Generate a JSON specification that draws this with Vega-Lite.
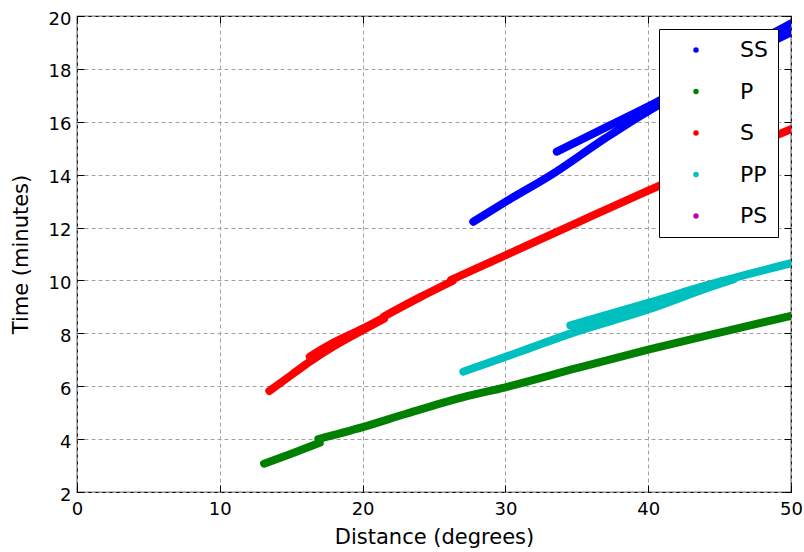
{
  "$schema": "https://vega.github.io/schema/vega-lite/v6.json",
  "width": 714,
  "height": 476,
  "autosize": {"type": "none"},
  "padding": {"left": 77, "top": 16, "right": 13, "bottom": 60},
  "background": "white",
  "config": {
    "view": {"stroke": "black", "strokeWidth": 1.2},
    "font": "DejaVu Sans"
  },
  "data": {
    "values": [
      {"phase": "SS", "branch": "SS1", "d": 27.75, "t": 12.22},
      {"phase": "SS", "branch": "SS1", "d": 30, "t": 12.97},
      {"phase": "SS", "branch": "SS1", "d": 33.35, "t": 14.04},
      {"phase": "SS", "branch": "SS1", "d": 37, "t": 15.38},
      {"phase": "SS", "branch": "SS1", "d": 40, "t": 16.4},
      {"phase": "SS", "branch": "SS1", "d": 41.5, "t": 16.85},
      {"phase": "SS", "branch": "SS2", "d": 33.6, "t": 14.87},
      {"phase": "SS", "branch": "SS2", "d": 37, "t": 15.78},
      {"phase": "SS", "branch": "SS2", "d": 40.5, "t": 16.72},
      {"phase": "SS", "branch": "SS2", "d": 45, "t": 18.02},
      {"phase": "SS", "branch": "SS2", "d": 50, "t": 19.38},
      {"phase": "SS", "branch": "SS3", "d": 46, "t": 18.55},
      {"phase": "SS", "branch": "SS3", "d": 50, "t": 19.72},
      {"phase": "P", "branch": "P1", "d": 13.1, "t": 3.07},
      {"phase": "P", "branch": "P1", "d": 15, "t": 3.45},
      {"phase": "P", "branch": "P1", "d": 17.0, "t": 3.86},
      {"phase": "P", "branch": "P2", "d": 16.9, "t": 4.0},
      {"phase": "P", "branch": "P2", "d": 20, "t": 4.45},
      {"phase": "P", "branch": "P2", "d": 23, "t": 4.95},
      {"phase": "P", "branch": "P2", "d": 27, "t": 5.58},
      {"phase": "P", "branch": "P2", "d": 30, "t": 5.96},
      {"phase": "P", "branch": "P2", "d": 35, "t": 6.68},
      {"phase": "P", "branch": "P2", "d": 40, "t": 7.38},
      {"phase": "P", "branch": "P2", "d": 45, "t": 8.03},
      {"phase": "P", "branch": "P2", "d": 50, "t": 8.66},
      {"phase": "S", "branch": "S1", "d": 13.47, "t": 5.82},
      {"phase": "S", "branch": "S1", "d": 15, "t": 6.42},
      {"phase": "S", "branch": "S1", "d": 16.3, "t": 6.93},
      {"phase": "S", "branch": "S1", "d": 18, "t": 7.52},
      {"phase": "S", "branch": "S1", "d": 20, "t": 8.12},
      {"phase": "S", "branch": "S1", "d": 21.5, "t": 8.55},
      {"phase": "S", "branch": "S2", "d": 16.3, "t": 7.12},
      {"phase": "S", "branch": "S2", "d": 18, "t": 7.66},
      {"phase": "S", "branch": "S2", "d": 20, "t": 8.18},
      {"phase": "S", "branch": "S2", "d": 21.5, "t": 8.6},
      {"phase": "S", "branch": "S3", "d": 21.5, "t": 8.64},
      {"phase": "S", "branch": "S3", "d": 24, "t": 9.36},
      {"phase": "S", "branch": "S3", "d": 26.3, "t": 9.98},
      {"phase": "S", "branch": "S4", "d": 26.2, "t": 10.02},
      {"phase": "S", "branch": "S4", "d": 30, "t": 10.95},
      {"phase": "S", "branch": "S4", "d": 35, "t": 12.18},
      {"phase": "S", "branch": "S4", "d": 40, "t": 13.4},
      {"phase": "S", "branch": "S4", "d": 45, "t": 14.58},
      {"phase": "S", "branch": "S4", "d": 50, "t": 15.72},
      {"phase": "PP", "branch": "PP1", "d": 27.05, "t": 6.55},
      {"phase": "PP", "branch": "PP1", "d": 31, "t": 7.3},
      {"phase": "PP", "branch": "PP1", "d": 34.5, "t": 7.98},
      {"phase": "PP", "branch": "PP1", "d": 40, "t": 8.9},
      {"phase": "PP", "branch": "PP1", "d": 44.3, "t": 9.74},
      {"phase": "PP", "branch": "PP1", "d": 46, "t": 10.05},
      {"phase": "PP", "branch": "PP2", "d": 34.55, "t": 8.3},
      {"phase": "PP", "branch": "PP2", "d": 40, "t": 9.15},
      {"phase": "PP", "branch": "PP2", "d": 44.3, "t": 9.85},
      {"phase": "PP", "branch": "PP2", "d": 50, "t": 10.65}
    ]
  },
  "layer": [
    {
      "mark": {"type": "line", "strokeWidth": 8, "strokeCap": "round", "strokeJoin": "round", "interpolate": "monotone", "clip": true},
      "encoding": {
        "x": {
          "field": "d", "type": "quantitative",
          "scale": {"domain": [0, 50], "nice": false, "zero": false},
          "axis": {
            "title": "Distance (degrees)", "values": [0, 10, 20, 30, 40, 50],
            "grid": true, "gridColor": "#a0a0a0", "gridDash": [4, 3], "gridWidth": 1,
            "domain": false, "tickSize": -7, "tickColor": "black", "tickWidth": 1,
            "labelFontSize": 18, "labelColor": "black", "labelPadding": 15,
            "labelFlush": false, "labelOverlap": false, "labelBound": false,
            "titleFontSize": 21, "titleFontWeight": "normal", "titleColor": "black", "titlePadding": 8
          }
        },
        "y": {
          "field": "t", "type": "quantitative",
          "scale": {"domain": [2, 20], "nice": false, "zero": false},
          "axis": {
            "title": "Time (minutes)", "values": [2, 4, 6, 8, 10, 12, 14, 16, 18, 20],
            "grid": true, "gridColor": "#a0a0a0", "gridDash": [4, 3], "gridWidth": 1,
            "domain": false, "tickSize": -7, "tickColor": "black", "tickWidth": 1,
            "labelFontSize": 18, "labelColor": "black", "labelPadding": 13, "labelOffset": 3,
            "labelFlush": false, "labelOverlap": false, "labelBound": false,
            "titleFontSize": 21, "titleFontWeight": "normal", "titleColor": "black", "titlePadding": 17
          }
        },
        "color": {
          "field": "phase", "type": "nominal",
          "scale": {"domain": ["SS", "P", "S", "PP", "PS"], "range": ["#0000ff", "#008000", "#ff0000", "#00bfbf", "#bf00bf"]},
          "legend": {
            "title": null, "orient": "top-right", "offset": 13, "zindex": 1,
            "fillColor": "white", "strokeColor": "black", "padding": 10, "cornerRadius": 0,
            "labelFontSize": 22, "labelFont": "DejaVu Sans", "labelColor": "black",
            "symbolType": "circle", "symbolSize": 30, "symbolOffset": 16, "symbolStrokeWidth": 0,
            "labelOffset": 33, "rowPadding": 19.5,
            "encode": {"symbols": {"update": {"fill": {"scale": "color", "field": "value"}, "stroke": {"value": "transparent"}}}}
          }
        },
        "detail": {"field": "branch"}
      }
    },
    {
      "mark": {"type": "point", "opacity": 0},
      "encoding": {
        "x": {
          "field": "d", "type": "quantitative",
          "axis": {"orient": "top", "title": null, "labels": false, "grid": false, "domain": false,
                   "values": [0, 10, 20, 30, 40, 50], "tickSize": -7, "tickColor": "black"}
        },
        "y": {
          "field": "t", "type": "quantitative",
          "axis": {"orient": "right", "title": null, "labels": false, "grid": false, "domain": false,
                   "values": [2, 4, 6, 8, 10, 12, 14, 16, 18, 20], "tickSize": -7, "tickColor": "black"}
        }
      }
    }
  ],
  "resolve": {"axis": {"x": "independent", "y": "independent"}}
}
